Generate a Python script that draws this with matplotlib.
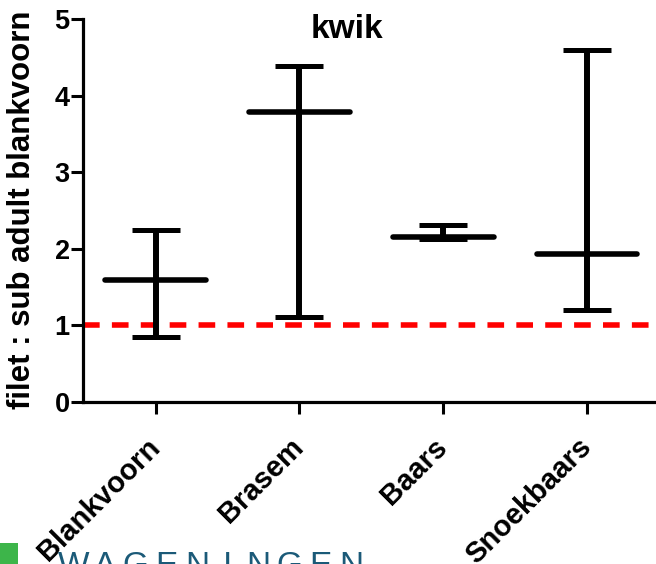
import matplotlib
matplotlib.use("Agg")
import matplotlib.pyplot as plt
from matplotlib.patches import Rectangle

plt.rcParams['font.family'] = ['Liberation Sans', 'DejaVu Sans']

# ratio filet : sub adult blankvoorn (median with min/max range)
soorten = ["Blankvoorn", "Brasem", "Baars", "Snoekbaars"]
mediaan = [1.59, 3.79, 2.16, 1.93]
minimum = [0.845, 1.105, 2.13, 1.20]
maximum = [2.25, 4.39, 2.31, 4.59]
referentie = 1.0

W, H = 656, 564
fig = plt.figure(figsize=(W / 100, H / 100), dpi=100)
ax = fig.add_axes([83 / W, 1 - 402 / H, (W - 83) / W, (402 - 19) / H])

pos = list(range(len(soorten)))
onder = [m - lo for m, lo in zip(mediaan, minimum)]
boven = [hi - m for m, hi in zip(mediaan, maximum)]

ax.axhline(referentie, color="#ff0000", lw=4, dashes=(3, 2.2), zorder=1)
ax.errorbar(pos, mediaan, yerr=[onder, boven], fmt="none", ecolor="black",
            elinewidth=4.3, capsize=17.3, capthick=3.6, zorder=3)
ax.hlines(mediaan, [p - 0.35 for p in pos], [p + 0.35 for p in pos],
          color="black", lw=4, capstyle="round", zorder=3)

ax.set_xlim(-0.505, 3.48)
ax.set_ylim(0, 5)
ax.set_yticks([0, 1, 2, 3, 4, 5])
ax.set_xticks(pos)
ax.set_xticklabels(soorten, rotation=45, ha="right", va="center",
                   rotation_mode="anchor", fontsize=21, fontweight="bold")
for lbl in ax.get_yticklabels():
    lbl.set_fontsize(19.5)
    lbl.set_fontweight("bold")

for s in ["top", "right"]:
    ax.spines[s].set_visible(False)
for s in ["left", "bottom"]:
    ax.spines[s].set_linewidth(2.3)
ax.tick_params(axis="both", direction="out", length=8.6, width=2.2)
ax.tick_params(axis="y", pad=1)
ax.tick_params(axis="x", pad=21)

fig.text(22 / W, 1 - 210 / H, "filet : sub adult blankvoorn", rotation=90,
         ha="center", va="center", fontsize=22.5, fontweight="bold")
fig.text(347 / W, 1 - 38 / H, "kwik", ha="center", va="baseline",
         fontsize=24, fontweight="bold")

# Wageningen logo strip along the bottom edge
fig.patches.append(Rectangle((0, 0), 18 / W, 21 / H, transform=fig.transFigure,
                             facecolor="#3db54a", edgecolor="none"))
for i, letter in enumerate("WAGENINGEN"):
    fig.text((74 + i * 30.8) / W, 1 - 575 / H, letter, ha="center",
             va="baseline", fontsize=24, color="#1b5a78")

fig.savefig("out.png", dpi=100)
